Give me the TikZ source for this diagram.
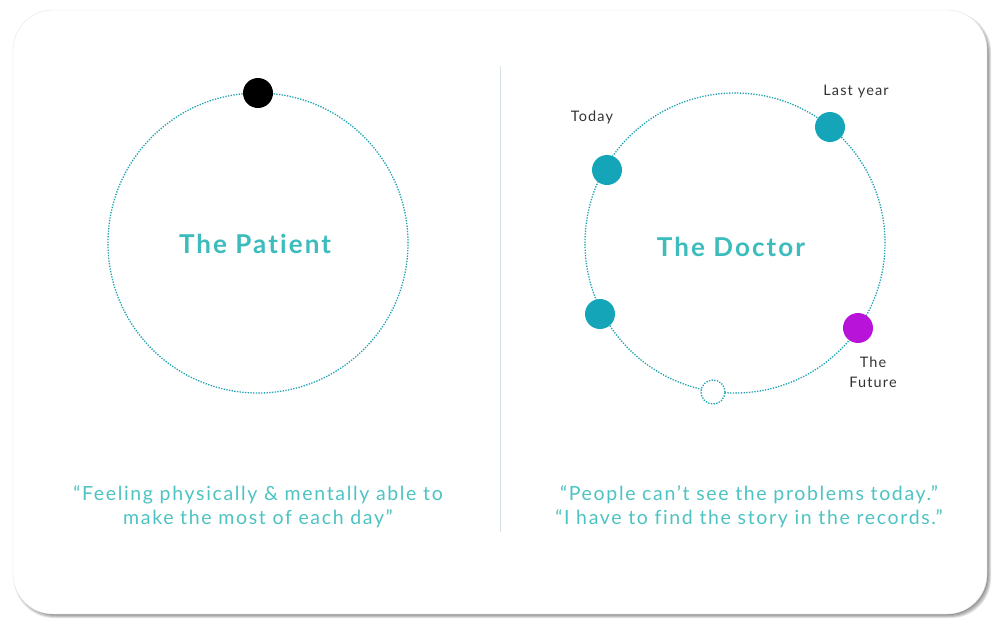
\documentclass[tikz,border=0pt]{standalone}
\usepackage{fontspec}
\setmainfont{Lato}
\newfontfamily\spq[LetterSpace=8.5,Ligatures=NoCommon]{Lato}
\newfontfamily\spt[LetterSpace=8,Ligatures=NoCommon]{Lato}
\definecolor{ring}{HTML}{1CA3B3}
\definecolor{dotc}{HTML}{14A6B8}
\definecolor{purp}{HTML}{B814D9}
\definecolor{tealtxt}{HTML}{3CBCBC}
\definecolor{quote}{HTML}{4EC3C3}
\definecolor{divider}{HTML}{D5E3E8}
\tikzset{
  orbit/.style={draw=ring, line width=1.3pt, dash pattern=on 1.3pt off 1.4pt},
  bead/.style={circle, fill=dotc, minimum size=30pt, inner sep=0pt},
  title/.style={font=\spt\fontsize{26}{30}\selectfont\bfseries, text=tealtxt},
  lab/.style={font=\spt\fontsize{14.5}{20}\selectfont, text=black!80, align=center},
  quotetxt/.style={font=\spq\fontsize{19.5}{24}\selectfont, text=quote, align=center},
  shade/.style={fill=black, opacity=0.12, rounded corners=40pt}
}
\begin{document}
\begin{tikzpicture}[x=1pt,y=-1pt]
\useasboundingbox (0,0) rectangle (1000,635);
\fill[white] (0,0) rectangle (1000,635);
% card with shadow
\fill[shade] (14,12) rectangle (991,618);
\fill[shade] (15,13) rectangle (990,617);
\fill[shade] (16,14) rectangle (989,616);
\fill[shade] (16,14) rectangle (988,615);
\path[fill=white, draw=black!10, rounded corners=40pt] (13,10) rectangle (987,614);
% divider
\draw[divider, line width=1pt] (500,66) -- (500,532);
% left
\node[orbit, circle, minimum size=300pt, inner sep=0pt] (pat) at (258,243) {};
\node[title] (pt) at (255,244) {The Patient};
\node[bead, fill=black] (pd) at (258,93) {};
\node[quotetxt] (lq) at (258,507) {“Feeling physically \& mentally able to\\make the most of each day”};
% right
\node[orbit, circle, minimum size=300pt, inner sep=0pt] (doc) at (735,243) {};
\node[title] (dt) at (731,247) {The Doctor};
\node[bead] (today) at (607,170) {};
\node[bead] (last) at (830,127) {};
\node[bead] (past) at (600,314) {};
\node[bead, fill=purp] (fut) at (858,328) {};
\node[circle, orbit, fill=white, minimum size=24pt, inner sep=0pt] (hole) at (713,392) {};
\node[lab] (tl) at (592,117) {Today};
\node[lab] (ll) at (856,92) {Last year};
\node[lab] (fl) at (873,372) {The\\Future};
\node[quotetxt] (rq) at (749,507) {“People can’t see the problems today.”\\“I have to find the story in the records.”};
\end{tikzpicture}
\end{document}
